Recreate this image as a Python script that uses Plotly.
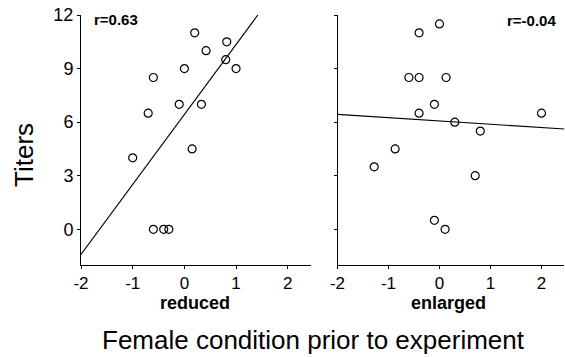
import numpy as np
import plotly.graph_objects as go

# Data
reduced_x = [-1.0, -0.7, -0.6, -0.6, -0.4, -0.3, -0.1, 0.0, 0.15, 0.2, 0.33, 0.42, 0.82, 0.8, 1.0]
reduced_y = [4.0, 6.5, 8.5, 0.0, 0.0, 0.0, 7.0, 9.0, 4.5, 11.0, 7.0, 10.0, 10.5, 9.5, 9.0]

enlarged_x = [0.0, -0.4, -0.6, -0.4, 0.13, -0.1, -0.4, 0.3, 2.0, 0.8, -0.87, -1.28, 0.7, -0.1, 0.11]
enlarged_y = [11.5, 11.0, 8.5, 8.5, 8.5, 7.0, 6.5, 6.0, 6.5, 5.5, 4.5, 3.5, 3.0, 0.5, 0.0]

x_ticks = [-2, -1, 0, 1, 2]
x_tick_text = ["-2", "-1", "0", "1", "2"]
y_ticks = [0, 3, 6, 9, 12]
y_tick_text = ["0", "3", "6", "9", "12"]
r_labels = ["r=0.63", "r=-0.04"]
panel_labels = ["reduced", "enlarged"]
y_title = "Titers"
x_title = "Female condition prior to experiment"

X_RANGE = [-2, 2.45]
Y_RANGE = [-2, 12]
W, H = 565, 357
FONT = "Liberation Sans"

fig = go.Figure()

def add_panel(xs, ys, xa, ya):
    fig.add_trace(go.Scatter(
        x=xs, y=ys, mode="markers", xaxis=xa, yaxis=ya,
        marker=dict(symbol="circle-open", size=8, color="black", line=dict(width=1.2)),
        showlegend=False, hoverinfo="skip"))
    slope, intercept = np.polyfit(xs, ys, 1)
    lx = np.array(X_RANGE)
    fig.add_trace(go.Scatter(
        x=lx, y=slope * lx + intercept, mode="lines", xaxis=xa, yaxis=ya,
        line=dict(color="black", width=1.1), showlegend=False, hoverinfo="skip"))

add_panel(reduced_x, reduced_y, "x", "y")
add_panel(enlarged_x, enlarged_y, "x2", "y2")

ydom = [(H - 265) / H, (H - 15) / H]
axis_common = dict(showgrid=False, zeroline=False, showline=True, linecolor="black",
                   linewidth=1, ticks="outside", ticklen=3, tickcolor="black",
                   automargin=False,
                   tickfont=dict(family=FONT, size=17, color="black"))

fig.update_layout(
    template="none",
    width=W, height=H,
    margin=dict(l=0, r=0, t=0, b=0, pad=0),
    paper_bgcolor="white", plot_bgcolor="white",
    xaxis=dict(domain=[81 / W, 311 / W], range=X_RANGE, tickvals=x_ticks,
               ticktext=x_tick_text, anchor="y", **axis_common),
    yaxis=dict(domain=ydom, range=Y_RANGE, tickvals=y_ticks, ticktext=y_tick_text,
               anchor="x",
               **{**axis_common, "tickfont": dict(family=FONT, size=18, color="black")}),
    xaxis2=dict(domain=[337.5 / W, 0.999], range=X_RANGE, tickvals=x_ticks,
                ticktext=x_tick_text, anchor="y2", **axis_common),
    yaxis2=dict(domain=ydom, range=Y_RANGE, tickvals=y_ticks, showticklabels=False,
                anchor="x2", **axis_common),
)

def px(x, y):
    return x / W, 1 - y / H

annots = []
ax_, ay_ = px(92, 19)
annots.append(dict(text="<b>%s</b>" % r_labels[0], x=ax_, y=ay_, xanchor="left", yanchor="middle"))
ax_, ay_ = px(558, 20)
annots.append(dict(text="<b>%s</b>" % r_labels[1], x=ax_, y=ay_, xanchor="right", yanchor="middle"))
for a in annots:
    a.update(xref="paper", yref="paper", showarrow=False,
             font=dict(family=FONT, size=15, color="black"))

for lbl, cx in zip(panel_labels, [195, 448]):
    x_, y_ = px(cx, 303)
    annots.append(dict(text="<b>%s</b>" % lbl, x=x_, y=y_, xref="paper", yref="paper",
                       showarrow=False, xanchor="center", yanchor="middle",
                       font=dict(family=FONT, size=18, color="black")))

x_, y_ = px(313, 340)
annots.append(dict(text=x_title, x=x_, y=y_, xref="paper", yref="paper", showarrow=False,
                   xanchor="center", yanchor="middle",
                   font=dict(family=FONT, size=26, color="black")))
x_, y_ = px(24, 155)
annots.append(dict(text=y_title, x=x_, y=y_, xref="paper", yref="paper", showarrow=False,
                   xanchor="center", yanchor="middle", textangle=-90,
                   font=dict(family=FONT, size=26, color="black")))

fig.update_layout(annotations=annots)
fig.write_html("out.html", config={"displayModeBar": False},
               post_script="document.body.style.margin='0';document.body.style.overflow='hidden';")
